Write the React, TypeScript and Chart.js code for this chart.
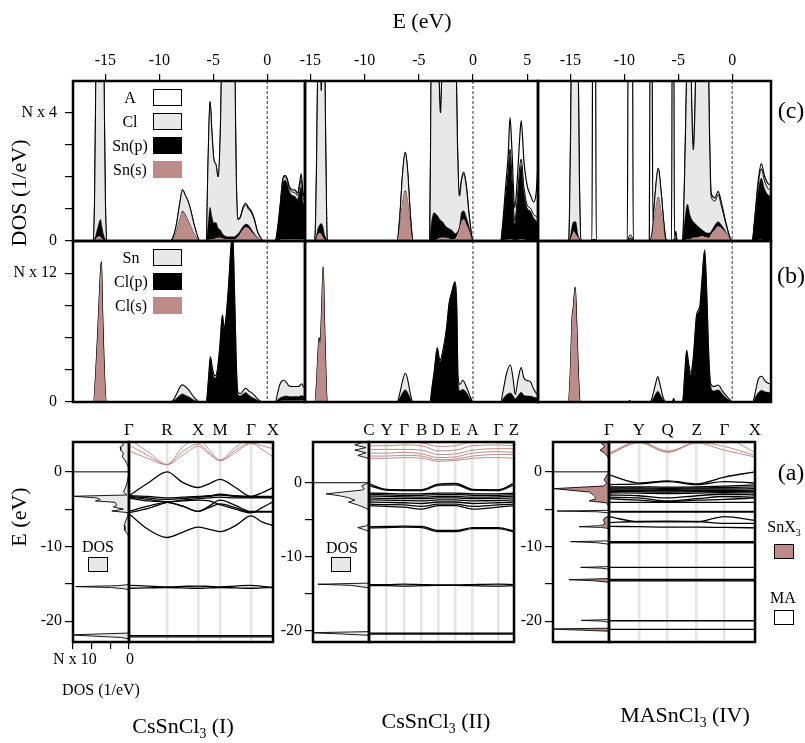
import React, { useEffect, useRef } from 'react';
import { Chart, registerables } from 'chart.js';

Chart.register(...registerables);

const W = 805;
const H = 743;
const FONT = "'Liberation Serif', 'Times New Roman', Times, serif";
const PINK = '#bd8c88';
const GRAY = '#e8e8e8';
const FERMI = 0;
const SIDE_DOS_MAX = 15;

// ---------- axes ----------
const E_RANGE_1 = [-18, 3.5];
const E_RANGE_2 = [-15.5, 6.0];
const E_RANGE_3 = [-18, 3.6];
const E_TICKS_1 = [-15, -10, -5, 0];
const E_TICKS_2 = [-15, -10, -5, 0, 5];
const E_TICKS_3 = [-15, -10, -5, 0];
const ROW_C_MAX = 5;
const ROW_C_TICKS = [0, 1, 2, 3, 4];
const ROW_C_TOP = 'N x 4';
const ROW_B_MAX = 15;
const ROW_B_TICKS = [0, 3, 6, 9, 12];
const ROW_B_TOP = 'N x 12';
const BAND_RANGE_1 = [-22.8, 4.0];
const BAND_RANGE_2 = [-21.5, 5.5];
const BAND_RANGE_3 = [-22.8, 4.0];
const BAND_E_TICKS = [-20, -15, -10, -5, 0];
const SIDE_DOS_TICKS = [0, 5, 10, 15];

// ---------- row (c), CsSnCl3 (I) ----------
const E_C1 = [-18, -16.15, -16.0, -15.85, -15.65, -15.45, -15.3, -15.15, -15.0, -14.85,
  -9.0, -8.75, -8.45, -8.1, -7.85, -7.6, -7.35, -7.1, -6.8, -6.5,
  -6.25, -5.65, -5.5, -5.3, -5.12, -4.95, -4.75, -4.55, -4.35, -4.15,
  -3.6, -3.05, -2.88, -2.72, -2.5, -2.25, -2.0, -1.75, -1.5, -1.2,
  -0.9, -0.6, -0.35, 0.75, 0.95, 1.2, 1.45, 1.65, 1.85, 2.05,
  2.3, 2.55, 2.8, 3.0, 3.15, 3.3, 3.5];
const SNS_C1 = [0, 0, 0.02, 0.08, 0.14, 0.12, 0.06, 0.03, 0.01, 0,
  0, 0.05, 0.25, 0.65, 0.9, 0.8, 0.62, 0.45, 0.22, 0.08,
  0, 0, 0.02, 0.05, 0.05, 0.06, 0.08, 0.1, 0.1, 0.08,
  0.05, 0.05, 0.08, 0.12, 0.22, 0.35, 0.42, 0.4, 0.3, 0.18,
  0.08, 0.02, 0, 0, 0.02, 0.04, 0.05, 0.05, 0.05, 0.05,
  0.05, 0.05, 0.05, 0.05, 0.05, 0.05, 0.05];
const SNP_C1 = [0, 0, 0.05, 0.15, 0.35, 0.55, 0.35, 0.15, 0.05, 0,
  0, 0.01, 0.02, 0.03, 0.03, 0.03, 0.03, 0.02, 0.02, 0.01,
  0, 0, 0.4, 1.0, 0.7, 0.5, 0.5, 0.3, 0.25, 0.15,
  0.08, 0.08, 0.1, 0.1, 0.1, 0.1, 0.1, 0.1, 0.08, 0.05,
  0.03, 0.01, 0, 0, 0.3, 1.0, 1.75, 1.85, 1.75, 1.5,
  1.38, 1.35, 1.25, 1.5, 1.65, 1.2, 1.05];
const CL_C1 = [0, 0, 1.2, 5.8, 7.5, 8, 7, 5.5, 1.2, 0,
  0, 0.04, 0.18, 0.5, 0.67, 0.6, 0.6, 0.5, 0.3, 0.1,
  0, 0, 1.8, 3.3, 2.6, 2.0, 1.8, 1.6, 3.0, 6.5,
  9, 6.5, 2.0, 0.45, 0.4, 0.55, 0.6, 0.5, 0.52, 0.43,
  0.17, 0.06, 0, 0, 0.03, 0.05, 0.1, 0.1, 0.1, 0.1,
  0.1, 0.12, 0.12, 0.15, 0.2, 0.15, 0.15];
const A_C1 = [0, 0, 0, 0.1, 0.2, 0.2, 0.2, 0.1, 0, 0,
  0, 0, 0, 0, 0, 0, 0, 0, 0, 0,
  0, 0, 0, 0, 0, 0, 0, 0, 0, 0,
  0, 0, 0, 0.02, 0.03, 0.05, 0.06, 0.05, 0.05, 0.04,
  0.02, 0.01, 0, 0, 0.02, 0.03, 0.05, 0.05, 0.05, 0.05,
  0.07, 0.08, 0.08, 0.1, 0.2, 0.15, 0.1];

// ---------- row (b), CsSnCl3 (I) ----------
const E_B1 = [-18, -16.1, -15.9, -15.7, -15.5, -15.37, -15.25, -15.1, -14.9, -9.0,
  -8.7, -8.4, -8.05, -7.85, -7.55, -7.2, -6.85, -6.5, -6.25, -5.65,
  -5.45, -5.27, -5.1, -4.95, -4.8, -4.6, -4.4, -4.15, -4.0, -3.85,
  -3.6, -3.35, -3.2, -3.0, -2.85, -2.7, -2.5, -2.2, -2.0, -1.7,
  -1.4, -1.1, -0.8, -0.5, 0.75, 0.95, 1.2, 1.5, 1.75, 2.0,
  2.3, 2.6, 2.9, 3.2, 3.35, 3.5];
const CLS_B1 = [0, 0, 2.5, 6.5, 11, 12.9, 8, 3, 0, 0,
  0.02, 0.05, 0.05, 0.05, 0.05, 0.04, 0.02, 0.01, 0, 0,
  0.02, 0.03, 0.03, 0.03, 0.03, 0.03, 0.03, 0.03, 0.03, 0.03,
  0.03, 0.03, 0.03, 0.03, 0.03, 0.03, 0.03, 0.03, 0.03, 0.03,
  0.02, 0.02, 0.01, 0, 0, 0.05, 0.1, 0.12, 0.12, 0.12,
  0.12, 0.12, 0.12, 0.15, 0.12, 0.12];
const CLP_B1 = [0, 0, 0.05, 0.1, 0.1, 0.1, 0.1, 0.05, 0, 0,
  0.08, 0.3, 0.6, 0.7, 0.55, 0.4, 0.2, 0.05, 0, 0,
  2.0, 4.0, 3.0, 2.3, 2.2, 3.0, 5.0, 8.0, 6.8, 7.5,
  10.5, 14.5, 15.5, 9, 3, 0.65, 0.55, 0.75, 0.85, 0.6,
  0.4, 0.25, 0.1, 0, 0, 0.15, 0.3, 0.4, 0.45, 0.4,
  0.38, 0.4, 0.38, 0.45, 0.4, 0.38];
const SN_B1 = [0, 0, 0.05, 0.1, 0.1, 0.1, 0.1, 0.05, 0, 0,
  0.1, 0.4, 0.8, 0.85, 0.8, 0.6, 0.3, 0.08, 0, 0,
  0.1, 0.2, 0.25, 0.25, 0.2, 0.15, 0.1, 0.1, 0.1, 0.1,
  0.1, 0.1, 0.1, 0.1, 0.15, 0.2, 0.2, 0.3, 0.4, 0.4,
  0.4, 0.25, 0.1, 0, 0, 0.6, 1.3, 1.5, 1.3, 1.0,
  0.95, 0.93, 0.95, 1.1, 0.9, 0.85];

// ---------- row (c), CsSnCl3 (II) ----------
const E_C2 = [-15.5, -14.6, -14.45, -14.3, -14.15, -14.0, -13.85, -13.7, -13.55, -13.45,
  -7.0, -6.75, -6.5, -6.25, -6.05, -5.8, -5.6, -5.5, -4.0, -3.85,
  -3.6, -3.3, -3.0, -2.8, -2.5, -2.0, -1.6, -1.42, -1.25, -1.05,
  -0.85, -0.6, -0.35, -0.1, 0.05, 2.55, 2.75, 3.0, 3.25, 3.42,
  3.6, 3.85, 4.1, 4.3, 4.45, 4.7, 5.0, 5.3, 5.6, 5.85,
  6.0];
const SNS_C2 = [0, 0, 0.05, 0.2, 0.25, 0.2, 0.1, 0.05, 0.02, 0,
  0, 0.45, 1.15, 1.54, 1.25, 0.5, 0.05, 0, 0, 0.02,
  0.03, 0.05, 0.1, 0.1, 0.1, 0.05, 0.08, 0.2, 0.35, 0.6,
  0.67, 0.5, 0.3, 0.04, 0, 0, 0.02, 0.04, 0.05, 0.06,
  0.05, 0.03, 0.04, 0.05, 0.06, 0.05, 0.03, 0.03, 0.02, 0.02,
  0.02];
const SNP_C2 = [0, 0, 0.1, 0.2, 0.25, 0.35, 0.35, 0.15, 0.05, 0,
  0, 0.02, 0.03, 0.03, 0.03, 0.02, 0.01, 0, 0, 0.5,
  0.85, 0.75, 0.55, 0.5, 0.35, 0.3, 0.15, 0.1, 0.1, 0.3,
  0.27, 0.23, 0.12, 0.02, 0, 0, 0.4, 1.2, 2.0, 2.6,
  1.8, 0.5, 1.2, 2.0, 2.3, 1.5, 1.0, 0.9, 0.7, 0.6,
  0.5];
const CL_C2 = [0, 0, 1.8, 5.6, 6.5, 4.15, 6.5, 5.8, 1.8, 0,
  0, 0.3, 0.9, 1.2, 1.0, 0.4, 0.05, 0, 0, 5,
  7, 6.5, 3.35, 5.5, 7, 7, 6, 2.5, 0.95, 1.0,
  1.15, 0.92, 0.35, 0.06, 0, 0, 0.05, 0.1, 0.15, 0.2,
  0.15, 0.1, 0.15, 0.2, 0.2, 0.15, 0.1, 0.1, 0.1, 0.15,
  0.2];
const A_C2 = [0, 0, 0.05, 0.1, 0.2, 0.1, 0.2, 0.1, 0.03, 0,
  0, 0, 0, 0, 0, 0, 0, 0, 0, 0,
  0, 0, 0.05, 0.1, 0.1, 0.1, 0.1, 0.1, 0.05, 0.05,
  0.06, 0.05, 0.03, 0.01, 0, 0, 0.1, 0.3, 0.5, 1.0,
  0.8, 0.4, 0.6, 0.9, 1.2, 0.8, 0.6, 0.4, 0.4, 0.8,
  1.7];

// ---------- row (b), CsSnCl3 (II) ----------
const E_B2 = [-15.5, -14.6, -14.45, -14.3, -14.2, -14.1, -13.95, -13.82, -13.7, -13.55,
  -13.45, -7.0, -6.75, -6.5, -6.25, -6.05, -5.8, -5.6, -5.5, -3.95,
  -3.82, -3.57, -3.3, -3.05, -2.75, -2.44, -2.2, -1.97, -1.66, -1.5,
  -1.38, -1.2, -0.95, -0.6, -0.3, -0.05, 0.05, 2.55, 2.8, 3.1,
  3.45, 3.7, 3.9, 4.15, 4.45, 4.7, 5.0, 5.3, 5.6, 5.85,
  6.0];
const CLS_B2 = [0, 0, 1.5, 4.5, 5.9, 5.4, 9.0, 12.5, 7.5, 2.0,
  0, 0, 0.03, 0.06, 0.08, 0.06, 0.03, 0, 0, 0,
  0.02, 0.03, 0.03, 0.03, 0.03, 0.03, 0.03, 0.03, 0.03, 0.03,
  0.03, 0.03, 0.03, 0.03, 0.02, 0, 0, 0, 0.05, 0.08,
  0.1, 0.08, 0.05, 0.08, 0.1, 0.08, 0.06, 0.05, 0.05, 0.05,
  0.05];
const CLP_B2 = [0, 0, 0.02, 0.05, 0.05, 0.05, 0.05, 0.05, 0.05, 0.02,
  0, 0, 0.35, 0.8, 1.05, 0.85, 0.35, 0.03, 0, 0,
  1.0, 2.8, 4.9, 3.7, 4.8, 6.8, 9.1, 10.1, 11.1, 9.0,
  2.2, 1.0, 1.15, 0.85, 0.35, 0.03, 0, 0, 0.3, 0.6,
  0.75, 0.5, 0.25, 0.5, 0.8, 0.55, 0.5, 0.5, 0.4, 0.35,
  0.3];
const SN_B2 = [0, 0, 0.02, 0.05, 0.05, 0.05, 0.05, 0.05, 0.05, 0.02,
  0, 0, 0.45, 1.1, 1.55, 1.3, 0.5, 0.03, 0, 0,
  0.05, 0.1, 0.15, 0.15, 0.1, 0.1, 0.1, 0.1, 0.1, 0.1,
  0.2, 0.6, 0.85, 0.5, 0.25, 0.03, 0, 0, 0.8, 2.0,
  2.6, 1.6, 0.4, 1.5, 2.3, 1.6, 1.45, 1.35, 0.75, 0.4,
  0.35];

// ---------- row (c), MASnCl3 (IV) ----------
const E_C3 = [-18, -15.15, -15.0, -14.85, -14.7, -14.5, -14.3, -14.15, -14.0, -13.0,
  -12.92, -12.68, -12.6, -9.72, -9.63, -9.45, -9.25, -9.17, -7.68, -7.6,
  -7.45, -7.35, -7.15, -6.85, -6.6, -6.35, -6.15, -6.0, -5.62, -5.55,
  -5.42, -5.35, -5.22, -5.1, -4.6, -4.4, -4.15, -3.9, -3.75, -3.6,
  -3.45, -3.3, -2.8, -2.3, -2.1, -1.95, -1.6, -1.3, -1.0, -0.6,
  -0.2, 0.0, 1.85, 2.1, 2.4, 2.7, 3.0, 3.3, 3.6];
const SNS_C3 = [0, 0, 0.05, 0.15, 0.3, 0.2, 0.1, 0.02, 0, 0,
  0, 0, 0, 0, 0.02, 0.05, 0.02, 0, 0, 0,
  0.1, 0.3, 0.8, 1.34, 0.9, 0.3, 0.02, 0, 0, 0,
  0, 0.02, 0.05, 0, 0, 0.03, 0.05, 0.05, 0.08, 0.1,
  0.1, 0.1, 0.15, 0.1, 0.1, 0.2, 0.35, 0.45, 0.4, 0.25,
  0.05, 0, 0, 0.02, 0.03, 0.04, 0.03, 0.03, 0.03];
const SNP_C3 = [0, 0, 0.1, 0.3, 0.3, 0.4, 0.1, 0.05, 0, 0,
  0, 0, 0, 0, 0.02, 0.05, 0.02, 0, 0, 0,
  0.02, 0.02, 0.03, 0.03, 0.03, 0.02, 0.01, 0, 0, 0,
  0, 0.02, 0.05, 0, 0, 0.6, 1.1, 0.75, 0.6, 0.5,
  0.45, 0.4, 0.2, 0.15, 0.15, 0.1, 0.15, 0.15, 0.1, 0.05,
  0, 0, 0, 0.6, 1.5, 1.92, 1.6, 1.42, 1.36];
const CL_C3 = [0, 0, 2.5, 6.5, 7, 7, 6, 1.5, 0, 0,
  0.05, 0.05, 0, 0, 0.05, 0.1, 0.05, 0, 0, 0.05,
  0.1, 0.2, 0.6, 0.9, 0.65, 0.3, 0.03, 0, 0, 0.03,
  0.03, 0.05, 0.1, 0, 0, 1.5, 5, 6.5, 3.5, 2.25,
  3.5, 6, 7, 7, 3, 1.1, 0.75, 0.85, 0.6, 0.25,
  0.04, 0, 0, 0.08, 0.2, 0.3, 0.25, 0.2, 0.2];
const A_C3 = [0, 0, 0.1, 0.2, 0.2, 0.2, 0.2, 0.1, 0, 0,
  7.5, 7.5, 0, 0, 7.5, 7.3, 7.5, 0, 0, 7.5,
  7.5, 0.1, 0, 0, 0, 0, 0, 0, 0, 7.5,
  7.5, 0.05, 0.1, 0, 0, 0.05, 0.1, 0.1, 0.1, 0.1,
  0.1, 0.1, 0.1, 0.1, 0.1, 0.1, 0.1, 0.1, 0.1, 0.05,
  0.01, 0, 0, 0.05, 0.1, 0.16, 0.15, 0.15, 0.16];

// ---------- row (b), MASnCl3 (IV) ----------
const E_B3 = [-18, -15.2, -15.0, -14.85, -14.72, -14.55, -14.4, -14.25, -14.1, -9.7,
  -9.5, -9.3, -7.6, -7.3, -7.1, -6.9, -6.65, -6.4, -6.15, -5.55,
  -5.42, -5.3, -4.6, -4.4, -4.22, -4.05, -3.85, -3.6, -3.3, -3.0,
  -2.8, -2.55, -2.35, -2.2, -2.0, -1.7, -1.3, -0.9, -0.5, -0.1,
  0.0, 1.9, 2.15, 2.45, 2.75, 3.05, 3.35, 3.6];
const CLS_B3 = [0, 0, 2.8, 7.5, 8.8, 10.6, 7.0, 2.5, 0, 0,
  0, 0, 0, 0.03, 0.05, 0.06, 0.05, 0.02, 0, 0,
  0.01, 0, 0, 0.03, 0.03, 0.03, 0.03, 0.03, 0.03, 0.03,
  0.03, 0.03, 0.03, 0.03, 0.03, 0.03, 0.03, 0.03, 0.02, 0,
  0, 0, 0.05, 0.1, 0.1, 0.1, 0.1, 0.1];
const CLP_B3 = [0, 0, 0.02, 0.05, 0.05, 0.05, 0.05, 0.03, 0, 0,
  0.08, 0, 0, 0.35, 0.7, 0.95, 0.6, 0.2, 0, 0,
  0.3, 0, 0, 2.5, 4.6, 3.5, 2.5, 4.0, 7.9, 8.7,
  11.2, 14.0, 10, 5, 1.5, 1.0, 1.1, 0.7, 0.3, 0.05,
  0, 0, 0.4, 0.8, 1.0, 0.85, 0.8, 0.75];
const SN_B3 = [0, 0, 0.02, 0.05, 0.05, 0.05, 0.05, 0.03, 0, 0,
  0.05, 0, 0, 0.5, 0.95, 1.35, 0.8, 0.2, 0, 0,
  0.02, 0, 0, 0.1, 0.2, 0.2, 0.2, 0.2, 0.2, 0.2,
  0.2, 0.15, 0.1, 0.2, 0.2, 0.4, 0.45, 0.3, 0.2, 0.05,
  0, 0, 0.5, 1.3, 1.3, 1.0, 0.85, 0.85];

// ---------- row (a): side DOS (energy, DOS) ----------
const E_D1 = [4.5, 4.2, 3.6, 3.3, 2.9, 2.5, 2.0, 1.6, 1.1, 0.7,
  0.4, -0.3, -0.7, -1.6, -2.3, -2.7, -3.1, -3.27, -3.5, -3.72,
  -3.9, -4.08, -4.5, -4.7, -5.0, -5.25, -5.47, -5.8, -6.5, -7.2,
  -7.85, -8.5, -8.8, -15.1, -15.25, -15.38, -15.5, -15.65, -15.8, -21.6,
  -21.85, -22.0, -22.2, -22.4];
const DOS_D1 = [0, 2.0, 1.5, 2.4, 2.2, 1.5, 1.8, 1.1, 0.6, 0.2,
  0, 0, 0.2, 0.6, 1.1, 1.5, 0.6, 14.8, 8.6, 7.7,
  9.0, 3.7, 3.3, 4.2, 1.5, 4.6, 0.2, 0.2, 0.8, 1.3,
  1.1, 0.2, 0, 0, 3, 14.3, 5, 1.5, 0, 0,
  16, 10, 2, 0];
const E_D2 = [6.0, 5.5, 5.1, 4.75, 4.4, 4.05, 3.7, 3.3, 3.0, 0.1,
  -0.05, -0.45, -0.8, -1.0, -1.2, -1.5, -1.75, -2.0, -2.35, -2.6,
  -3.0, -3.4, -3.7, -5.6, -5.85, -6.05, -6.3, -6.5, -6.7, -13.55,
  -13.7, -13.85, -14.05, -14.2, -20.1, -20.25, -20.4, -20.6, -21.7];
const DOS_D2 = [0, 1.5, 3.8, 0.8, 3.8, 0.8, 3.0, 0.3, 0, 0,
  0.3, 2.0, 1.2, 2.0, 6.0, 11.5, 8.0, 5.6, 3.8, 5.5,
  3.0, 1.0, 0, 0, 1.0, 3.0, 1.5, 0.3, 0, 0,
  13.7, 5.0, 2.0, 0, 0, 16, 8, 0, 0];
const E_D3 = [4.5, 4.0, 3.8, 3.4, 2.9, 2.5, 2.0, 1.6, -0.1, -0.45,
  -0.8, -1.1, -1.5, -1.9, -2.25, -2.7, -3.15, -3.6, -3.9, -4.15,
  -4.5, -4.8, -5.15, -5.25, -5.35, -5.5, -5.9, -6.2, -6.5, -6.9,
  -7.2, -7.35, -7.45, -7.6, -9.25, -9.35, -9.5, -9.7, -12.7, -12.8,
  -12.9, -13.05, -14.3, -14.45, -14.6, -14.8, -19.8, -19.9, -20.0, -20.15,
  -20.95, -21.05, -21.2, -21.35, -23];
const SNX_D3 = [0, 1.5, 2.0, 1.1, 2.4, 1.1, 0.3, 0, 0, 0.6,
  1.0, 1.3, 0.6, 1.5, 14.6, 5.1, 3.8, 3.3, 5.1, 0.6,
  0.2, 0, 0, 0.1, 0.1, 0, 0, 1.2, 1.5, 1.0,
  2.0, 2.0, 1.0, 0, 0, 0.3, 0.2, 0, 0, 0.2,
  0.1, 0, 0, 9.0, 3.5, 0, 0, 0.2, 0.1, 0,
  0, 16, 8, 0, 0];
const MA_D3 = [0, 0, 0, 0, 0, 0, 0, 0, 0, 0,
  0, 0, 0, 0, 0.2, 0.2, 0.2, 0.2, 0.2, 0.1,
  0, 0, 0, 13.8, 3, 0, 0, 0, 0, 0,
  0, 6.0, 1.0, 0, 0, 10, 3, 0, 0, 7.4,
  2, 0, 0, 1.7, 0.5, 0, 0, 7.2, 2, 0,
  0, 0.3, 0.2, 0, 0];

// ---------- row (a): band structures ----------
const K1 = [0, 0.866, 1.732, 2.439, 3.146, 3.646, 4.146, 4.853, 5.56, 6.06, 6.56];
const KHS1 = [0, 1.732, 3.146, 4.146, 5.56, 6.56];
const KLAB1 = ['Γ', 'R', 'X', 'M', 'Γ', 'X'];
const CB1 = [
  [2.8, 1.8, 0.95, 2.2, 3.4, 2.4, 1.5, 2.6, 3.8, 3.0, 2.0],
  [3.6, 2.2, 0.95, 2.7, 3.7, 2.6, 1.5, 2.9, 3.9, 3.5, 3.1],
  [4.4, 2.7, 1.0, 3.3, 4.5, 3.0, 1.6, 3.3, 4.4, 4.0, 3.8],
];
const VB1 = [
  [-3.2, -1.5, 0.0, -1.4, -2.1, -1.6, -1.0, -2.1, -3.3, -2.8, -2.1],
  [-3.2, -3.3, -3.5, -3.4, -3.3, -3.2, -3.0, -3.2, -3.3, -3.3, -3.3],
  [-3.3, -3.5, -3.7, -3.6, -3.4, -3.3, -3.1, -3.3, -3.4, -3.4, -3.4],
  [-3.4, -3.7, -4.0, -3.8, -3.6, -3.5, -3.4, -3.5, -3.5, -3.5, -3.5],
  [-3.5, -3.9, -4.05, -4.6, -5.3, -4.6, -3.8, -4.5, -5.3, -5.3, -5.3],
  [-5.3, -4.6, -4.1, -4.6, -5.3, -4.8, -4.3, -4.8, -5.4, -5.4, -5.4],
  [-5.5, -4.9, -4.1, -3.9, -3.8, -3.9, -4.4, -5.0, -5.5, -4.8, -4.0],
  [-5.6, -7.7, -8.8, -8.1, -7.4, -7.7, -8.0, -7.2, -5.9, -6.7, -7.2],
  [-15.2, -15.3, -15.4, -15.35, -15.3, -15.35, -15.4, -15.3, -15.2, -15.35, -15.5],
  [-15.6, -15.55, -15.5, -15.55, -15.6, -15.55, -15.5, -15.55, -15.6, -15.55, -15.5],
  [-21.95, -21.95, -21.95, -21.95, -21.95, -21.95, -21.95, -21.95, -21.95, -21.95, -21.95],
  [-22.1, -22.1, -22.1, -22.1, -22.1, -22.1, -22.1, -22.1, -22.1, -22.1, -22.1],
];

const K2 = [0, 0.122, 0.243, 0.363, 0.478, 0.598, 0.715, 0.892, 1.0];
const KLAB2 = ['C', 'Y', 'Γ', 'B', 'D', 'E', 'A', 'Γ', 'Z'];
const CB2 = [
  [3.3, 3.3, 3.4, 3.3, 2.9, 3.0, 3.3, 3.4, 3.3],
  [3.6, 3.6, 3.7, 3.6, 3.1, 3.2, 3.6, 3.8, 3.8],
  [4.0, 4.0, 4.1, 3.9, 3.4, 3.5, 4.0, 4.2, 4.1],
  [4.5, 4.5, 4.5, 4.4, 3.8, 3.9, 4.4, 4.6, 4.6],
  [5.0, 5.0, 5.1, 5.0, 4.3, 4.4, 5.0, 5.1, 5.0],
  [5.5, 5.5, 5.6, 5.4, 4.9, 5.0, 5.5, 5.4, 5.3],
];
const VB2 = [
  [-0.15, -0.9, -0.95, -0.95, -0.2, -0.1, -0.9, -0.95, -0.05],
  [-0.4, -1.0, -1.05, -1.05, -0.35, -0.3, -1.0, -1.05, -0.3],
  [-1.4, -1.45, -1.5, -1.5, -1.4, -1.4, -1.5, -1.5, -1.4],
  [-1.6, -1.65, -1.7, -1.7, -1.6, -1.6, -1.7, -1.7, -1.6],
  [-1.8, -1.85, -1.9, -1.95, -1.85, -1.85, -1.95, -1.9, -1.8],
  [-2.05, -2.1, -2.1, -2.15, -2.05, -2.05, -2.15, -2.1, -2.05],
  [-2.3, -2.35, -2.4, -2.45, -2.3, -2.3, -2.45, -2.4, -2.3],
  [-2.6, -2.65, -2.7, -2.8, -2.6, -2.6, -2.8, -2.7, -2.6],
  [-2.9, -2.95, -3.0, -3.2, -2.9, -2.9, -3.2, -3.0, -2.9],
  [-3.1, -3.2, -3.3, -3.55, -3.1, -3.1, -3.55, -3.3, -3.1],
  [-5.95, -5.9, -5.85, -5.9, -6.45, -6.45, -6.05, -6.05, -6.5],
  [-6.1, -6.05, -6.0, -6.05, -6.6, -6.6, -6.2, -6.2, -6.65],
  [-13.75, -13.75, -13.7, -13.75, -13.8, -13.8, -13.75, -13.7, -13.75],
  [-13.9, -13.9, -13.95, -13.9, -13.85, -13.85, -13.9, -13.95, -13.9],
  [-20.3, -20.3, -20.3, -20.3, -20.3, -20.3, -20.3, -20.3, -20.3],
  [-20.42, -20.42, -20.42, -20.42, -20.42, -20.42, -20.42, -20.42, -20.42],
];

const K3 = [0, 0.205, 0.402, 0.601, 0.79, 1.0];
const KLAB3 = ['Γ', 'Y', 'Q', 'Z', 'Γ', 'X'];
const CB3 = [
  [2.3, 3.9, 2.6, 3.85, 2.9, 2.0],
  [2.4, 4.0, 2.7, 3.95, 3.4, 2.2],
  [2.5, 4.1, 2.8, 4.05, 4.4, 2.6],
];
const VB3 = [
  [-0.4, -1.5, -1.2, -1.6, -0.7, 0.0],
  [-1.7, -1.6, -1.3, -1.7, -1.3, -1.5],
  [-2.0, -2.0, -2.05, -2.0, -1.9, -1.75],
  [-2.15, -2.15, -2.2, -2.15, -2.1, -2.0],
  [-2.3, -2.3, -2.35, -2.3, -2.3, -2.25],
  [-2.45, -2.5, -2.5, -2.5, -2.5, -2.45],
  [-2.6, -2.65, -2.7, -2.65, -2.65, -2.65],
  [-2.8, -2.85, -2.9, -2.85, -2.8, -2.85],
  [-3.1, -3.2, -3.5, -3.2, -3.0, -3.1],
  [-3.4, -3.5, -3.9, -3.6, -3.3, -3.4],
  [-3.6, -3.8, -4.0, -3.8, -3.7, -3.5],
  [-4.1, -4.1, -4.1, -4.1, -4.1, -4.1],
  [-5.3, -5.3, -5.3, -5.3, -5.3, -5.3],
  [-5.4, -5.4, -5.4, -5.4, -5.4, -5.4],
  [-6.0, -6.7, -6.7, -6.7, -6.0, -6.5],
  [-6.8, -6.65, -6.6, -6.65, -6.9, -6.9],
  [-7.3, -7.35, -7.4, -7.4, -7.45, -7.5],
  [-9.35, -9.35, -9.35, -9.35, -9.35, -9.35],
  [-9.5, -9.5, -9.5, -9.5, -9.5, -9.5],
  [-12.8, -12.8, -12.8, -12.8, -12.8, -12.8],
  [-14.4, -14.4, -14.4, -14.4, -14.4, -14.4],
  [-14.5, -14.5, -14.5, -14.5, -14.5, -14.5],
  [-14.6, -14.6, -14.6, -14.6, -14.6, -14.6],
  [-19.95, -19.95, -19.95, -19.95, -19.95, -19.95],
  [-21.1, -21.1, -21.1, -21.1, -21.1, -21.1],
];

// ---------- helpers ----------
type Area = { l: number; t: number; r: number; b: number };
type Sides = { left?: boolean; top?: boolean; bottom?: boolean };

// padding is 0 on sides where a displayed axis box takes the room, so tick labels are not clipped
const padOf = (a: Area, s: Sides) => ({
  left: s.left ? 0 : a.l,
  top: s.top ? 0 : a.t,
  right: W - a.r,
  bottom: s.bottom ? 0 : H - a.b,
});

const fitTo = (size: number) => (axis: any) => {
  if (axis.isHorizontal()) axis.height = size; else axis.width = size;
  axis.paddingLeft = 0; axis.paddingRight = 0; axis.paddingTop = 0; axis.paddingBottom = 0;
};
const fixTicks = (vals: number[]) => (axis: any) => { axis.ticks = vals.map((v) => ({ value: v })); };
const tickFont = (size: number) => ({ color: '#000', font: { family: FONT, size } });
const tickGrid = (len: number) => ({ drawOnChartArea: false, drawTicks: true, tickLength: len, color: '#000', lineWidth: 1.2 });

const framePlugin = {
  id: 'frame',
  afterDraw(chart: any) {
    const { ctx, chartArea: a } = chart;
    ctx.save();
    ctx.strokeStyle = '#000';
    ctx.lineWidth = 2.5;
    ctx.strokeRect(a.left, a.top, a.right - a.left, a.bottom - a.top);
    ctx.restore();
  },
};
const fermiPlugin = {
  id: 'fermiV',
  afterDatasetsDraw(chart: any) {
    const { ctx, chartArea: a, scales } = chart;
    const x = scales.x.getPixelForValue(FERMI);
    ctx.save();
    ctx.strokeStyle = '#333';
    ctx.lineWidth = 1;
    ctx.setLineDash([3, 2]);
    ctx.beginPath();
    ctx.moveTo(x, a.top);
    ctx.lineTo(x, a.bottom);
    ctx.stroke();
    ctx.restore();
  },
};

const base = (a: Area, s: Sides) => ({
  animation: false,
  responsive: false,
  maintainAspectRatio: false,
  events: [],
  layout: { padding: padOf(a, s), autoPadding: false },
  plugins: { legend: { display: false }, tooltip: { enabled: false } },
  elements: { point: { radius: 0 } },
});

type Comp = { v: number[]; bg: string; bw: number };

function rowConfig(a: Area, xr: number[], yMax: number, E: number[], comps: Comp[], xTicks: number[] | null, yTicks: number[] | null, yTop: string) {
  const showX = xTicks !== null;
  const showY = yTicks !== null;
  return {
    type: 'line',
    data: {
      datasets: comps.map((c, i) => ({
        data: E.map((e, j) => ({ x: e, y: c.v[j] })),
        fill: i === 0 ? 'origin' : '-1',
        backgroundColor: c.bg,
        borderColor: c.bw > 0 ? '#000' : 'rgba(0,0,0,0)',
        borderWidth: c.bw,
        pointRadius: 0,
        cubicInterpolationMode: 'monotone',
      })),
    },
    options: {
      ...base(a, { left: showY, top: showX }),
      scales: {
        x: {
          type: 'linear', min: xr[0], max: xr[1], position: 'top', display: showX,
          afterBuildTicks: fixTicks(xTicks || []), afterFit: fitTo(showX ? a.t : 0),
          grid: tickGrid(7), border: { display: false },
          ticks: { ...tickFont(16), padding: 4, autoSkip: false, maxRotation: 0, callback: (v: number) => String(v) },
        },
        y: {
          type: 'linear', min: 0, max: yMax, stacked: true, position: 'left', display: showY,
          afterBuildTicks: fixTicks(yTicks || []), afterFit: fitTo(showY ? a.l : 0),
          grid: tickGrid(8), border: { display: false },
          ticks: {
            ...tickFont(16), padding: 8,
            callback: (v: number) => (v === 0 ? '0' : yTicks && v === yTicks[yTicks.length - 1] ? yTop : ''),
          },
        },
      },
    },
    plugins: [framePlugin, fermiPlugin],
  };
}

function bandConfig(a: Area, K: number[], KHS: number[], KLAB: string[], yr: number[], CB: number[][], VB: number[][]) {
  const line = (b: number[], color: string, w: number) => ({
    data: K.map((k, i) => ({ x: k, y: b[i] })),
    borderColor: color, borderWidth: w, fill: false, pointRadius: 0, cubicInterpolationMode: 'monotone',
  });
  return {
    type: 'line',
    data: { datasets: [...VB.map((b) => line(b, '#000', 1.3)), ...CB.map((b) => line(b, PINK, 1))] },
    options: {
      ...base(a, { top: true }),
      scales: {
        x: {
          type: 'linear', min: KHS[0], max: KHS[KHS.length - 1], position: 'top',
          afterBuildTicks: fixTicks(KHS), afterFit: fitTo(a.t),
          grid: { drawOnChartArea: true, drawTicks: false, color: '#e4e4e4', lineWidth: 2.5 },
          border: { display: false },
          ticks: { ...tickFont(17), padding: 1, autoSkip: false, maxRotation: 0, callback: (_v: number, i: number) => KLAB[i] },
        },
        y: { type: 'linear', min: yr[0], max: yr[1], display: false, afterFit: fitTo(0) },
      },
    },
    plugins: [framePlugin],
  };
}

function sideConfig(a: Area, yr: number[], layers: any[], showX: boolean) {
  const fermiLine = {
    data: [{ x: SIDE_DOS_MAX, y: FERMI }, { x: 0, y: FERMI }],
    borderColor: '#000', borderWidth: 1, fill: false, pointRadius: 0,
  };
  return {
    type: 'line',
    data: { datasets: [fermiLine, ...layers] },
    options: {
      ...base(a, { left: true, bottom: showX }),
      scales: {
        x: {
          type: 'linear', min: 0, max: SIDE_DOS_MAX, reverse: true, position: 'bottom', display: showX,
          afterBuildTicks: fixTicks(SIDE_DOS_TICKS), afterFit: fitTo(showX ? H - a.b : 0),
          grid: tickGrid(7), border: { display: false },
          ticks: {
            ...tickFont(16), padding: 1, autoSkip: false, maxRotation: 0, align: 'end', labelOffset: 5,
            callback: (v: number) => (v === 0 ? '0' : v === 10 ? 'N x 10' : ''),
          },
        },
        y: {
          type: 'linear', min: yr[0], max: yr[1], position: 'left',
          afterBuildTicks: fixTicks(BAND_E_TICKS), afterFit: fitTo(a.l),
          grid: tickGrid(8), border: { display: false },
          ticks: { ...tickFont(16), padding: 3, callback: (v: number) => (v % 10 === 0 ? String(v) : '') },
        },
      },
    },
    plugins: [framePlugin],
  };
}

const sidePts = (E: number[], D: number[]) => E.map((e, i) => ({ x: D[i], y: e }));

function buildConfigs(): any[] {
  const cComps = (s: number[], p: number[], cl: number[], aa: number[]): Comp[] => [
    { v: s, bg: PINK, bw: 0 },
    { v: p, bg: '#000', bw: 0.5 },
    { v: cl, bg: GRAY, bw: 1 },
    { v: aa, bg: '#fff', bw: 1.2 },
  ];
  const bComps = (s: number[], p: number[], sn: number[]): Comp[] => [
    { v: s, bg: PINK, bw: 0 },
    { v: p, bg: '#000', bw: 0.5 },
    { v: sn, bg: GRAY, bw: 1.1 },
  ];
  const grayLayer = (E: number[], D: number[]) => ({
    data: sidePts(E, D), fill: 'shape', backgroundColor: GRAY, borderColor: '#000', borderWidth: 0.9, pointRadius: 0,
  });
  const total3 = SNX_D3.map((v, i) => v + MA_D3[i]);
  return [
    rowConfig({ l: 73, t: 81, r: 305, b: 241 }, E_RANGE_1, ROW_C_MAX, E_C1, cComps(SNS_C1, SNP_C1, CL_C1, A_C1), E_TICKS_1, ROW_C_TICKS, ROW_C_TOP),
    rowConfig({ l: 305, t: 81, r: 538, b: 241 }, E_RANGE_2, ROW_C_MAX, E_C2, cComps(SNS_C2, SNP_C2, CL_C2, A_C2), E_TICKS_2, null, ''),
    rowConfig({ l: 538, t: 81, r: 771, b: 241 }, E_RANGE_3, ROW_C_MAX, E_C3, cComps(SNS_C3, SNP_C3, CL_C3, A_C3), E_TICKS_3, null, ''),
    rowConfig({ l: 73, t: 241, r: 305, b: 402 }, E_RANGE_1, ROW_B_MAX, E_B1, bComps(CLS_B1, CLP_B1, SN_B1), null, ROW_B_TICKS, ROW_B_TOP),
    rowConfig({ l: 305, t: 241, r: 538, b: 402 }, E_RANGE_2, ROW_B_MAX, E_B2, bComps(CLS_B2, CLP_B2, SN_B2), null, null, ''),
    rowConfig({ l: 538, t: 241, r: 771, b: 402 }, E_RANGE_3, ROW_B_MAX, E_B3, bComps(CLS_B3, CLP_B3, SN_B3), null, null, ''),
    sideConfig({ l: 73, t: 442, r: 129, b: 642 }, BAND_RANGE_1, [grayLayer(E_D1, DOS_D1)], true),
    bandConfig({ l: 129, t: 442, r: 273, b: 642 }, K1, KHS1, KLAB1, BAND_RANGE_1, CB1, VB1),
    sideConfig({ l: 313, t: 442, r: 369, b: 642 }, BAND_RANGE_2, [grayLayer(E_D2, DOS_D2)], false),
    bandConfig({ l: 369, t: 442, r: 514, b: 642 }, K2, K2, KLAB2, BAND_RANGE_2, CB2, VB2),
    sideConfig({ l: 553, t: 442, r: 609, b: 642 }, BAND_RANGE_3, [
      { data: sidePts(E_D3, total3), fill: false, borderColor: '#000', borderWidth: 0.9, pointRadius: 0 },
      { data: sidePts(E_D3, SNX_D3), fill: 'shape', backgroundColor: PINK, borderColor: 'rgba(0,0,0,0)', borderWidth: 0, pointRadius: 0 },
      { data: sidePts(E_D3, total3), fill: 'shape', backgroundColor: '#fff', borderColor: 'rgba(0,0,0,0)', borderWidth: 0, pointRadius: 0 },
    ], false),
    bandConfig({ l: 609, t: 442, r: 755, b: 642 }, K3, K3, KLAB3, BAND_RANGE_3, CB3, VB3),
  ];
}

// ---------- HTML text ----------
function Txt(p: { x: number; y: number; size: number; rot?: boolean; children: any }) {
  return (
    <div style={{
      position: 'absolute', left: p.x, top: p.y,
      transform: `translate(-50%, -50%)${p.rot ? ' rotate(-90deg)' : ''}`,
      fontFamily: FONT, fontSize: p.size, lineHeight: 1, whiteSpace: 'nowrap', color: '#000',
    }}>{p.children}</div>
  );
}
function Swatch(p: { x: number; y: number; w: number; h: number; bg: string; border?: boolean }) {
  return (
    <div style={{
      position: 'absolute', left: p.x, top: p.y, width: p.w, height: p.h, background: p.bg,
      boxSizing: 'border-box', border: p.border ? '1.3px solid #000' : 'none',
    }} />
  );
}
const Sub3 = () => <span style={{ fontSize: '0.62em', verticalAlign: '-0.4em' }}>3</span>;

const LEG_C = [
  { t: 'A', bg: '#fff', border: true },
  { t: 'Cl', bg: GRAY, border: true },
  { t: 'Sn(p)', bg: '#000', border: false },
  { t: 'Sn(s)', bg: PINK, border: false },
];
const LEG_C_TOPS = [89, 113, 137, 161];
const LEG_B = [
  { t: 'Sn', bg: GRAY, border: true },
  { t: 'Cl(p)', bg: '#000', border: false },
  { t: 'Cl(s)', bg: PINK, border: false },
];
const LEG_B_TOPS = [249, 273, 297];

export default function App() {
  const refs = useRef<(HTMLCanvasElement | null)[]>([]);
  const N = 12;
  useEffect(() => {
    Chart.defaults.font.family = FONT;
    const configs = buildConfigs();
    const charts = configs.map((cfg, i) => new Chart(refs.current[i] as HTMLCanvasElement, cfg));
    return () => charts.forEach((c) => c.destroy());
  }, []);
  return (
    <div style={{ position: 'absolute', left: 0, top: 0, width: W, height: H, background: '#fff', overflow: 'hidden' }}>
      {Array.from({ length: N }).map((_, i) => (
        <canvas key={i} ref={(el) => { refs.current[i] = el; }} width={W} height={H}
          style={{ position: 'absolute', left: 0, top: 0, width: W, height: H }} />
      ))}
      <Txt x={422} y={21} size={22}>E (eV)</Txt>
      <Txt x={19} y={193} size={22} rot>DOS (1/eV)</Txt>
      <Txt x={19} y={517} size={22} rot>E (eV)</Txt>
      <Txt x={791} y={110} size={24}>(c)</Txt>
      <Txt x={791} y={275} size={24}>(b)</Txt>
      <Txt x={791} y={472} size={24}>(a)</Txt>
      {LEG_C.map((it, i) => (
        <React.Fragment key={'c' + i}>
          <Txt x={130} y={LEG_C_TOPS[i] + 8.5} size={16}>{it.t}</Txt>
          <Swatch x={153} y={LEG_C_TOPS[i]} w={29} h={16.5} bg={it.bg} border={it.border} />
        </React.Fragment>
      ))}
      {LEG_B.map((it, i) => (
        <React.Fragment key={'b' + i}>
          <Txt x={131} y={LEG_B_TOPS[i] + 8.5} size={16}>{it.t}</Txt>
          <Swatch x={153} y={LEG_B_TOPS[i]} w={29} h={16.5} bg={it.bg} border={it.border} />
        </React.Fragment>
      ))}
      <Txt x={98} y={547} size={16}>DOS</Txt>
      <Swatch x={88} y={557} w={20} h={15} bg={GRAY} border />
      <Txt x={342} y={548} size={16}>DOS</Txt>
      <Swatch x={331} y={557} w={20} h={15} bg={GRAY} border />
      <Txt x={784} y={528} size={16}>SnX<Sub3 /></Txt>
      <Swatch x={774} y={544} w={20} h={15} bg={PINK} border />
      <Txt x={783} y={598} size={16}>MA</Txt>
      <Swatch x={774} y={610} w={20} h={15} bg="#fff" border />
      <Txt x={101} y={690} size={16}>DOS (1/eV)</Txt>
      <Txt x={183} y={728} size={22}>CsSnCl<Sub3 /> (I)</Txt>
      <Txt x={436} y={723} size={22}>CsSnCl<Sub3 /> (II)</Txt>
      <Txt x={685} y={717} size={22}>MASnCl<Sub3 /> (IV)</Txt>
    </div>
  );
}
